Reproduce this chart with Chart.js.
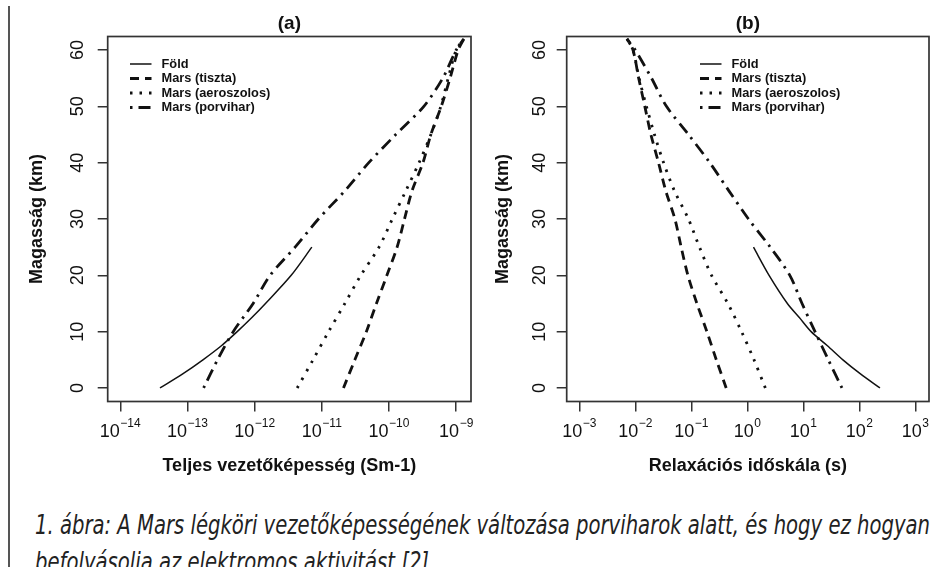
<!DOCTYPE html>
<html><head><meta charset="utf-8">
<script src="https://cdn.jsdelivr.net/npm/chart.js@4.4.1/dist/chart.umd.min.js"></script>
<style>
html,body{margin:0;padding:0;background:#fff;width:952px;height:567px;overflow:hidden;position:relative}
#ca{position:absolute;left:0;top:0}
#cb{position:absolute;left:476px;top:0}
#bar{position:absolute;left:7.5px;top:6px;width:2.5px;height:561px;background:#555}
#cap{position:absolute;left:35px;top:506px;font-family:"Liberation Sans Narrow","DejaVu Sans Condensed",sans-serif;font-style:italic;font-size:27px;line-height:37px;color:#222;white-space:nowrap;transform-origin:0 0}
#cap div{display:block;width:max-content}
</style></head><body>
<div id="bar"></div>
<canvas id="ca" width="476" height="500"></canvas>
<canvas id="cb" width="476" height="500"></canvas>
<div id="cap"><div id="cap1">1. ábra: A Mars légköri vezetőképességének változása porviharok alatt, és hogy ez hogyan</div><div id="cap2">befolyásolja az elektromos aktivitást [2]</div></div>
<script>
// ---------- data ----------
const seriesNames = ['Föld', 'Mars (tiszta)', 'Mars (aeroszolos)', 'Mars (porvihar)'];
const heightsEarth = [0, 2.5, 5, 7.5, 10, 12.5, 15, 20, 25];            // km
const heightsMars  = [0, 5, 10, 15, 20, 25, 30, 35, 40, 45, 50, 55, 60, 62]; // km

// (a) total conductivity, S/m
const condEarth   = [3.9e-14, 8.5e-14, 1.7e-13, 3.2e-13, 5.5e-13, 9.1e-13, 1.45e-12, 3.5e-12, 7.1e-12];
const condClear   = [2.1e-11, 3.1e-11, 4.6e-11, 6.5e-11, 9.3e-11, 1.32e-10, 1.7e-10, 2.2e-10, 3.2e-10, 4.2e-10, 6.0e-10, 8.1e-10, 1.07e-9, 1.3e-9];
const condAerosol = [4.3e-12, 7.4e-12, 1.26e-11, 2.2e-11, 3.8e-11, 7.1e-11, 1.12e-10, 1.78e-10, 2.8e-10, 4.2e-10, 5.9e-10, 7.6e-10, 1.0e-9, 1.3e-9];
const condDust    = [1.74e-13, 2.8e-13, 4.8e-13, 9.5e-13, 1.7e-12, 4.0e-12, 8.9e-12, 2.2e-11, 5.0e-11, 1.26e-10, 3.3e-10, 6.3e-10, 1.0e-9, 1.3e-9];

// (b) relaxation time scale, s
const tauEarth   = [234, 105, 51, 27, 13.8, 8.5, 5.2, 2.45, 1.29];
const tauClear   = [0.42, 0.28, 0.19, 0.126, 0.087, 0.066, 0.051, 0.035, 0.026, 0.019, 0.0148, 0.0115, 0.0091, 0.0071];
const tauAerosol = [2.1, 1.32, 0.79, 0.45, 0.23, 0.14, 0.089, 0.05, 0.032, 0.022, 0.0158, 0.0117, 0.0091, 0.0071];
const tauDust    = [49, 28, 16.2, 9.5, 5.75, 2.57, 1.05, 0.47, 0.214, 0.089, 0.036, 0.0195, 0.01, 0.0071];

// ticks
const heightTicks = [0, 10, 20, 30, 40, 50, 60];
const condTicks = [1e-14, 1e-13, 1e-12, 1e-11, 1e-10, 1e-9];
const condTickExp = ['\u221214', '\u221213', '\u221212', '\u221211', '\u221210', '\u22129'];
const tauTicks = [1e-3, 1e-2, 1e-1, 1e0, 1e1, 1e2, 1e3];
const tauTickExp = ['\u22123', '\u22122', '\u22121', '0', '1', '2', '3'];

// ---------- styling ----------
const FONT = '"Liberation Sans", Arial, Helvetica, sans-serif';
const INK = '#111';
const styles = [
  {borderWidth: 1.5, borderDash: []},
  {borderWidth: 2.8, borderDash: [9, 6]},
  {borderWidth: 2.8, borderDash: [2.5, 7]},
  {borderWidth: 2.8, borderDash: [2.5, 6, 12, 6]}
];

function mk(xs, ys) { return ys.map((h, i) => ({x: xs[i], y: h})); }

function datasets(e, c, a, d) {
  const arr = [mk(e, heightsEarth), mk(c, heightsMars), mk(a, heightsMars), mk(d, heightsMars)];
  return arr.map((data, i) => Object.assign({
    label: seriesNames[i], data, borderColor: INK, backgroundColor: 'transparent',
    pointRadius: 0, fill: false, tension: 0.3, borderCapStyle: 'butt'
  }, styles[i]));
}

const rPlugin = {
  id: 'rstyle',
  afterDraw(chart, args, o) {
    const {ctx, chartArea: a, scales} = chart;
    ctx.save();
    // box
    ctx.strokeStyle = '#333'; ctx.lineWidth = 1.7; ctx.setLineDash([]);
    ctx.strokeRect(a.left, a.top, a.right - a.left, a.bottom - a.top);
    // x tick labels 10^n
    ctx.fillStyle = INK; ctx.textAlign = 'left'; ctx.textBaseline = 'alphabetic';
    const xs = scales.x;
    xs.ticks.forEach((t, i) => {
      const px = xs.getPixelForValue(t.value);
      const exp = o.exps[i];
      ctx.font = '18px ' + FONT; const w1 = ctx.measureText('10').width;
      ctx.font = '12px ' + FONT; const w2 = ctx.measureText(exp).width;
      const x0 = px - (w1 + w2 + 0.5) / 2;
      ctx.font = '18px ' + FONT; ctx.fillText('10', x0, a.bottom + 35);
      ctx.font = '12px ' + FONT; ctx.fillText(exp, x0 + w1 + 0.5, a.bottom + 25.5);
    });
    // y tick labels, rotated
    const ys = scales.y;
    ctx.font = '18px ' + FONT; ctx.textAlign = 'center';
    ys.ticks.forEach(t => {
      const py = ys.getPixelForValue(t.value);
      ctx.save(); ctx.translate(a.left - o.yGap, py); ctx.rotate(-Math.PI / 2);
      ctx.fillText(String(t.value), 0, 0); ctx.restore();
    });
    // legend
    ctx.font = 'bold 12.8px ' + FONT; ctx.textAlign = 'left'; ctx.textBaseline = 'middle';
    chart.data.datasets.forEach((ds, i) => {
      const y = o.legY + i * 14.5;
      ctx.strokeStyle = INK; ctx.lineWidth = ds.borderWidth; ctx.setLineDash(ds.borderDash || []);
      ctx.beginPath(); ctx.moveTo(o.legX, y); ctx.lineTo(o.legX + 21.5, y); ctx.stroke();
      ctx.setLineDash([]);
      ctx.fillText(ds.label, o.legX + 31.5, y);
    });
    ctx.restore();
  }
};

function config(ds, p) {
  return {
    type: 'line',
    data: {datasets: ds},
    plugins: [rPlugin],
    options: {
      responsive: false, animation: false, events: [],
      layout: {padding: {top: 0, right: p.padRight, left: 0, bottom: 0}},
      plugins: {
        legend: {display: false}, tooltip: {enabled: false},
        title: {display: true, text: p.title, fullSize: false, color: INK,
          font: {family: FONT, size: 19, weight: 'bold'}, padding: {top: 11.9, bottom: 1.8}},
        rstyle: {exps: p.exps, yGap: p.yGap, legX: p.legX, legY: 64}
      },
      scales: {
        x: {
          type: 'logarithmic', min: p.xmin, max: p.xmax,
          afterBuildTicks: s => { s.ticks = p.ticks.map(v => ({value: v})); },
          afterFit: s => { s.height = 98.5; },
          ticks: {display: false},
          grid: {drawOnChartArea: false, drawTicks: true, tickLength: 10, color: '#333', lineWidth: 1.5},
          border: {display: false},
          title: {display: true, text: p.xTitle, color: INK, font: {family: FONT, size: 18, weight: 'bold'},
            padding: {top: 0, bottom: 23.6}}
        },
        y: {
          type: 'linear', min: -2.4, max: 62.4,
          afterBuildTicks: s => { s.ticks = heightTicks.map(v => ({value: v})); },
          afterFit: s => { s.width = p.yWidth; },
          ticks: {display: false},
          grid: {drawOnChartArea: false, drawTicks: true, tickLength: 10, color: '#333', lineWidth: 1.5},
          border: {display: false},
          title: {display: true, text: 'Magasság (km)', color: INK, font: {family: FONT, size: 18, weight: 'bold'},
            padding: {top: p.yTitlePad, bottom: 0}}
        }
      }
    }
  };
}

new Chart(document.getElementById('ca'), config(
  datasets(condEarth, condClear, condAerosol, condDust),
  {title: '(a)', xTitle: 'Teljes vezetőképesség (Sm-1)', xmin: 6.5e-15, xmax: 1.66e-9, ticks: condTicks,
   exps: condTickExp, padRight: 5, yWidth: 107.7, yGap: 24.7, yTitlePad: 26.2, legX: 130}));

new Chart(document.getElementById('cb'), config(
  datasets(tauEarth, tauClear, tauAerosol, tauDust),
  {title: '(b)', xTitle: 'Relaxációs időskála (s)', xmin: 5.96e-4, xmax: 1758, ticks: tauTicks,
   exps: tauTickExp, padRight: 23, yWidth: 90.7, yGap: 22, yTitlePad: 16.5, legX: 224}));

// caption width fit
(function () {
  const cap = document.getElementById('cap');
  const w = document.getElementById('cap1').getBoundingClientRect().width;
  const s = 895 / w;
  cap.style.transform = 'scaleX(' + s + ')';
})();
</script>
</body></html>
